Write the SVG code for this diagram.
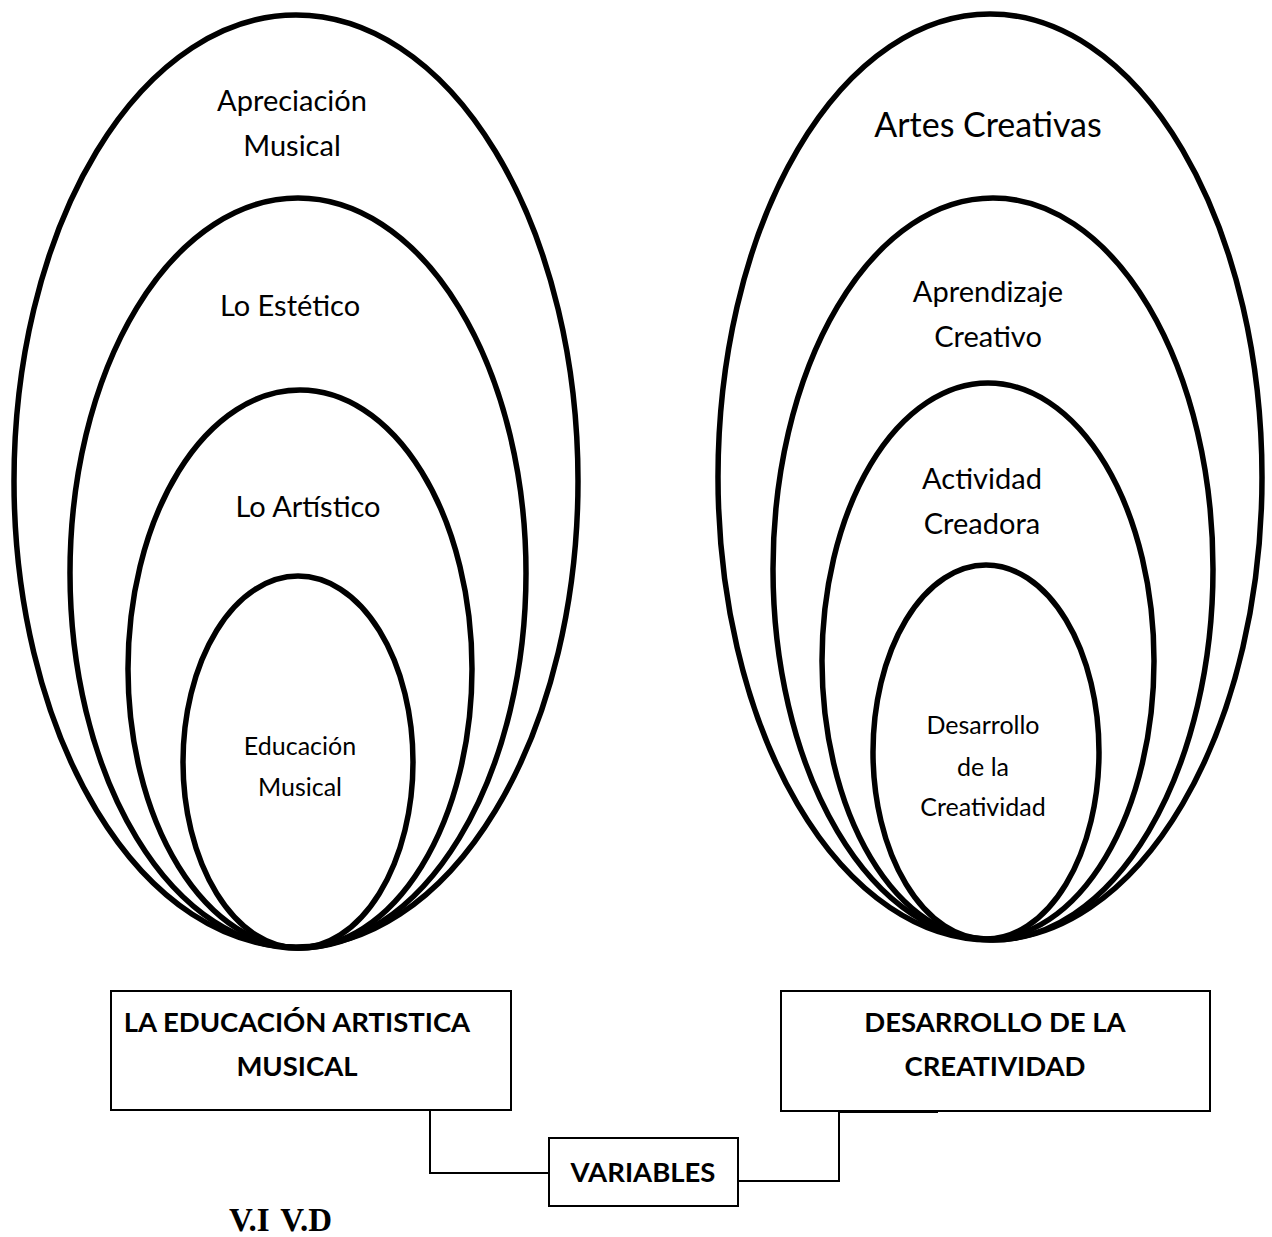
<svg xmlns="http://www.w3.org/2000/svg" width="1272" height="1237" viewBox="0 0 1272 1237">
<style>
.ring{fill:none;stroke:#000;stroke-width:5.5}
.lbl{font-family:Lato,"Open Sans",sans-serif;fill:#000;text-anchor:middle}
.box{fill:#fff;stroke:#000;stroke-width:2}
.bt{font-family:Lato,"Open Sans",sans-serif;font-weight:bold;font-size:27.5px;fill:#000;text-anchor:middle}
.conn{fill:none;stroke:#000;stroke-width:2}
</style>
<rect width="1272" height="1237" fill="#fff"/>
<g id="left-rings">
<g id="apreciacion"><ellipse class="ring" cx="296" cy="481" rx="282" ry="466"/>
<text class="lbl" font-size="29" x="292" y="111">Apreciación</text><text class="lbl" font-size="29" x="292" y="156">Musical</text></g>
<g id="estetico"><ellipse class="ring" cx="298" cy="573" rx="228" ry="375"/>
<text class="lbl" font-size="29" x="290" y="316">Lo Estético</text></g>
<g id="artistico"><ellipse class="ring" cx="300" cy="669" rx="172" ry="279"/>
<text class="lbl" font-size="29" x="308" y="517">Lo Artístico</text></g>
<g id="educacion"><ellipse class="ring" cx="298" cy="762" rx="115" ry="186"/>
<text class="lbl" font-size="25" x="300" y="755">Educación</text><text class="lbl" font-size="25" x="300" y="796">Musical</text></g>
</g>
<g id="right-rings">
<g id="artes"><ellipse class="ring" cx="990" cy="477" rx="272" ry="463"/>
<text class="lbl" font-size="34" x="988" y="137">Artes Creativas</text></g>
<g id="aprendizaje"><ellipse class="ring" cx="993" cy="569" rx="220" ry="371"/>
<text class="lbl" font-size="29" x="988" y="302">Aprendizaje</text><text class="lbl" font-size="29" x="988" y="347">Creativo</text></g>
<g id="actividad"><ellipse class="ring" cx="988" cy="661" rx="166" ry="278"/>
<text class="lbl" font-size="29" x="982" y="489">Actividad</text><text class="lbl" font-size="29" x="982" y="534">Creadora</text></g>
<g id="desarrollo"><ellipse class="ring" cx="986" cy="752" rx="113" ry="187"/>
<text class="lbl" font-size="25" x="983" y="734">Desarrollo</text><text class="lbl" font-size="25" x="983" y="776">de la</text><text class="lbl" font-size="25" x="983" y="816">Creatividad</text></g>
</g>
<g id="connectors">
<path class="conn" d="M312 1110 H430 V1173 H549"/>
<path class="conn" d="M738 1181 H839 V1112 H938"/>
</g>
<g id="box-vi"><rect class="box" x="111" y="991" width="400" height="119"/>
<text class="bt" x="297" y="1032">LA EDUCACIÓN ARTISTICA</text><text class="bt" x="297" y="1076">MUSICAL</text></g>
<g id="box-vd"><rect class="box" x="781" y="991" width="429" height="120"/>
<text class="bt" x="995" y="1032">DESARROLLO DE LA</text><text class="bt" x="995" y="1076">CREATIVIDAD</text></g>
<g id="box-variables"><rect class="box" x="549" y="1138" width="189" height="68"/>
<text class="bt" x="643" y="1182">VARIABLES</text></g>
<text x="229" y="1231" font-family="'Liberation Serif',serif" font-weight="bold" font-size="33" word-spacing="3">V.I V.D</text>
</svg>
